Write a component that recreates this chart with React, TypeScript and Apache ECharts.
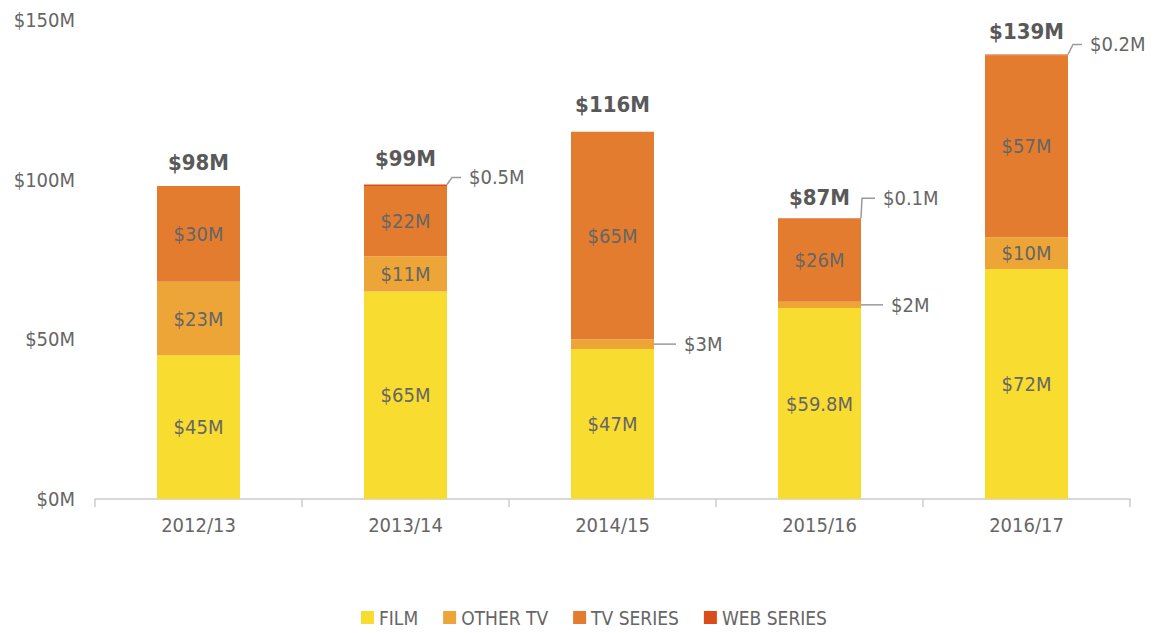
import React, { useEffect, useRef } from "react";
import * as echarts from "echarts";

const categories = ["2012/13", "2013/14", "2014/15", "2015/16", "2016/17"];
const film = [45, 65, 47, 59.8, 72];
const otherTv = [23, 11, 3, 2, 10];
const tvSeries = [30, 22, 65, 26, 57];
const webSeries = [0, 0.5, 0, 0.1, 0.2];
const totals = [98, 99, 116, 87, 139];
const yTicks = [0, 50, 100, 150];

// callouts: [category index, series name, label text]
const callouts: [number, string, string][] = [
  [1, "WEB SERIES", "$0.5M"],
  [2, "OTHER TV", "$3M"],
  [3, "OTHER TV", "$2M"],
  [3, "WEB SERIES", "$0.1M"],
  [4, "WEB SERIES", "$0.2M"],
];
// pixel rise of leader line for each callout (style only)
const calloutRise = [7, 0, 0, 20, 10];

const FONT = "'Liberation Sans Narrow', 'DejaVu Sans Condensed', 'Roboto Condensed', Roboto, sans-serif";
const TEXT = "#666666";

export default function App() {
  const ref = useRef<HTMLDivElement>(null);
  useEffect(() => {
    if (!ref.current) return;
    const chart = echarts.init(ref.current, undefined, { renderer: "svg" });
    const barW = 83;
    const insideLabel = (hideBelow: number) => ({
      show: true,
      position: "inside",
      color: TEXT,
      fontFamily: FONT,
      fontSize: 20,
      formatter: (p: any) => (p.value > hideBelow ? `$${p.value}M` : ""),
    });

    const calloutData = callouts.map(([i, s, t], k) => {
      let y: number;
      if (s === "WEB SERIES") y = film[i] + otherTv[i] + tvSeries[i] + webSeries[i];
      else y = film[i] + otherTv[i] / 2;
      return [i, y, t, calloutRise[k], s === "WEB SERIES" ? 1 : 0];
    });

    chart.setOption({
      animation: false,
      textStyle: { fontFamily: FONT },
      grid: { left: 95, right: 28, top: 20, bottom: 134 },
      legend: {
        bottom: 1,
        left: 356,
        itemWidth: 13,
        itemHeight: 13,
        itemGap: 25,
        icon: "rect",
        textStyle: { color: TEXT, fontSize: 19, fontFamily: FONT },
        data: ["FILM", "OTHER TV", "TV SERIES", "WEB SERIES"],
      },
      xAxis: {
        type: "category",
        data: categories,
        axisLine: { lineStyle: { color: "#cccccc", width: 1.5 } },
        axisTick: { show: true, length: 8, lineStyle: { color: "#cccccc", width: 1.5 } },
        axisLabel: { color: TEXT, fontSize: 20, fontFamily: FONT, margin: 16 },
      },
      yAxis: {
        type: "value",
        min: yTicks[0],
        max: yTicks[yTicks.length - 1],
        interval: 50,
        splitLine: { show: false },
        axisLine: { show: false },
        axisTick: { show: false },
        axisLabel: { color: TEXT, fontSize: 20, fontFamily: FONT, margin: 20, formatter: (v: number) => `$${v}M` },
      },
      series: [
        { name: "FILM", type: "bar", stack: "a", barWidth: barW, data: film, itemStyle: { color: "#F9DC30" }, label: insideLabel(0) },
        { name: "OTHER TV", type: "bar", stack: "a", barWidth: barW, data: otherTv, itemStyle: { color: "#EEA538" }, label: insideLabel(5) },
        { name: "TV SERIES", type: "bar", stack: "a", barWidth: barW, data: tvSeries, itemStyle: { color: "#E47C2F" }, label: insideLabel(0) },
        { name: "WEB SERIES", type: "bar", stack: "a", barWidth: barW, data: webSeries, itemStyle: { color: "#DC4C18" } },
        {
          type: "custom",
          name: "totals",
          silent: true,
          data: totals.map((t, i) => [i, t]),
          renderItem: (params: any, api: any) => {
            const p = api.coord([api.value(0), api.value(1)]);
            return {
              type: "text",
              x: p[0],
              y: p[1] - 13,
              style: {
                text: `$${api.value(1)}M`,
                fill: "#595959",
                font: `bold 22px ${FONT}`,
                align: "center",
                verticalAlign: "bottom",
              },
            };
          },
        },
        {
          type: "custom",
          name: "callouts",
          silent: true,
          data: calloutData,
          dimensions: ["x", "y", "t", "rise", "corner"],
          renderItem: (params: any, api: any) => {
            const i = api.value(0);
            const p = api.coord([i, api.value(1)]);
            const rise = api.value(3);
            const corner = api.value(4);
            const x0 = p[0] + barW / 2;
            const y0 = p[1];
            const pts = corner
              ? [[x0, y0], [x0 + (rise < 12 ? 5 : 1), y0 - rise], [x0 + 14, y0 - rise]]
              : [[x0, y0], [x0 + 22, y0]];
            const end = pts[pts.length - 1];
            return {
              type: "group",
              children: [
                { type: "polyline", shape: { points: pts }, style: { stroke: "#9a9a9a", lineWidth: 1.5, fill: null } },
                {
                  type: "text",
                  x: end[0] + 8,
                  y: end[1],
                  style: {
                    text: api.value(2),
                    fill: TEXT,
                    font: `20px ${FONT}`,
                    align: "left",
                    verticalAlign: "middle",
                  },
                },
              ],
            };
          },
        },
      ],
    });
    return () => chart.dispose();
  }, []);
  return <div ref={ref} style={{ position: "fixed", left: 0, top: 0, width: 1158, height: 633, background: "#fff" }} />;
}
